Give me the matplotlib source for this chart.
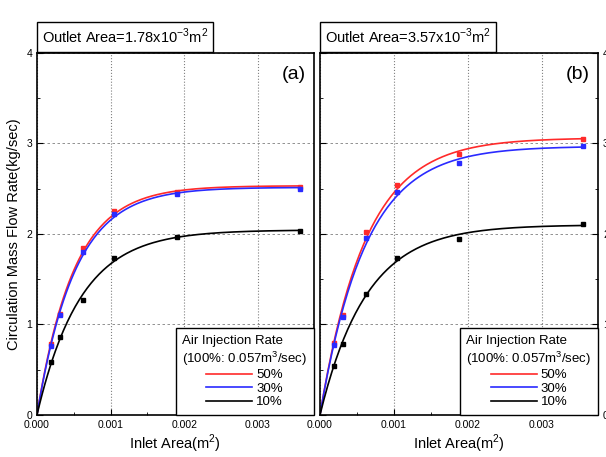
import numpy as np
import matplotlib
matplotlib.use("Agg")
import matplotlib.pyplot as plt
from matplotlib.ticker import MultipleLocator

plt.rcParams['font.family'] = ['Liberation Sans', 'DejaVu Sans']
plt.rcParams['mathtext.fontset'] = 'custom'
plt.rcParams['mathtext.rm'] = 'Liberation Sans'

# 入口面积 (m^2)
inlet_a = [0.00019, 0.00031, 0.00063, 0.00105, 0.0019, 0.00357]
inlet_b = [0.00019, 0.00031, 0.00062, 0.00104, 0.00188, 0.00355]

# (a) 出口面积 1.78e-3
red_a = [0.78, 1.12, 1.85, 2.25, 2.46, 2.52]
blue_a = [0.76, 1.10, 1.80, 2.22, 2.44, 2.50]
black_a = [0.59, 0.86, 1.27, 1.74, 1.97, 2.03]

# (b) 出口面积 3.57e-3
red_b = [0.79, 1.10, 2.02, 2.54, 2.88, 3.05]
blue_b = [0.77, 1.08, 1.96, 2.46, 2.78, 2.97]
black_b = [0.54, 0.78, 1.34, 1.74, 1.95, 2.11]

labels = ['50%', '30%', '10%']
colors = ['#ff2a2a', '#2a2aff', 'black']
panel_titles = ['Outlet Area=1.78x10$^{\\mathrm{-3}}$m$^2$',
                'Outlet Area=3.57x10$^{\\mathrm{-3}}$m$^2$']
panel_tags = ['(a)', '(b)']


def fit_curve(x, y):
    # 拟合 y = a(1-exp(-x/b))
    x = np.asarray(x)
    y = np.asarray(y)
    best = None
    for b in np.linspace(1e-4, 2e-3, 2000):
        f = 1 - np.exp(-x / b)
        a = np.sum(y * f) / np.sum(f * f)
        err = np.sum((y - a * f) ** 2)
        if best is None or err < best[0]:
            best = (err, a, b)
    xs = np.linspace(0, x.max(), 200)
    return xs, best[1] * (1 - np.exp(-xs / best[2]))


fig = plt.figure(figsize=(6.06, 4.57), dpi=100)
ax1 = fig.add_axes([0.061, 0.092, 0.457, 0.792])
ax2 = fig.add_axes([0.528, 0.092, 0.459, 0.792])

panels = [
    (ax1, inlet_a, [red_a, blue_a, black_a]),
    (ax2, inlet_b, [red_b, blue_b, black_b]),
]

for i, (ax, xd, series) in enumerate(panels):
    lines = []
    for ys, c, lab in zip(series, colors, labels):
        xs, yf = fit_curve(xd, ys)
        ln, = ax.plot(xs, yf, color=c, linewidth=1.2, label=lab)
        ax.plot(xd, ys, 's', color=c, markersize=3.5)
        lines.append(ln)
    ax.set_xlim(0, 0.00376)
    ax.set_ylim(0, 4)
    ax.set_xticks([0, 0.001, 0.002, 0.003])
    ax.set_xticklabels(['0.000', '0.001', '0.002', '0.003'])
    ax.set_yticks([0, 1, 2, 3, 4])
    ax.xaxis.set_minor_locator(MultipleLocator(0.0005))
    ax.yaxis.set_minor_locator(MultipleLocator(0.5))
    ax.tick_params(which='both', direction='in', labelsize=7.5)
    ax.tick_params(which='major', length=4)
    ax.tick_params(which='minor', length=2)
    ax.xaxis.grid(True, linestyle=':', color='gray', linewidth=0.8)
    ax.yaxis.grid(True, linestyle='--', color='gray', linewidth=0.6, dashes=(3, 3))
    for sp in ax.spines.values():
        sp.set_linewidth(1.2)
    ax.set_xlabel('Inlet Area(m$^2$)', fontsize=10.5, labelpad=2)
    ax.text(0.97, 0.965, panel_tags[i], transform=ax.transAxes,
            ha='right', va='top', fontsize=14)
    ax.text(0.018, 1.018, panel_titles[i], transform=ax.transAxes,
            ha='left', va='bottom', fontsize=10.5,
            bbox=dict(boxstyle='square,pad=0.35', fc='white', ec='black', lw=1.0))
    leg = ax.legend(handles=lines, loc='lower right', borderaxespad=0,
                    title='Air Injection Rate\n(100%: 0.057m$^3$/sec)',
                    fontsize=9.5, title_fontsize=9.5, fancybox=False,
                    edgecolor='black', framealpha=1, handlelength=3.5,
                    labelspacing=0.1, handletextpad=0.3, borderpad=0.5)
    leg.get_frame().set_linewidth(1.0)

ax1.set_ylabel('Circulation Mass Flow Rate(kg/sec)', fontsize=10.5, labelpad=4)
ax2.yaxis.tick_right()
ax2.tick_params(which='both', left=True, direction='in')

fig.savefig('out.png', dpi=100)
